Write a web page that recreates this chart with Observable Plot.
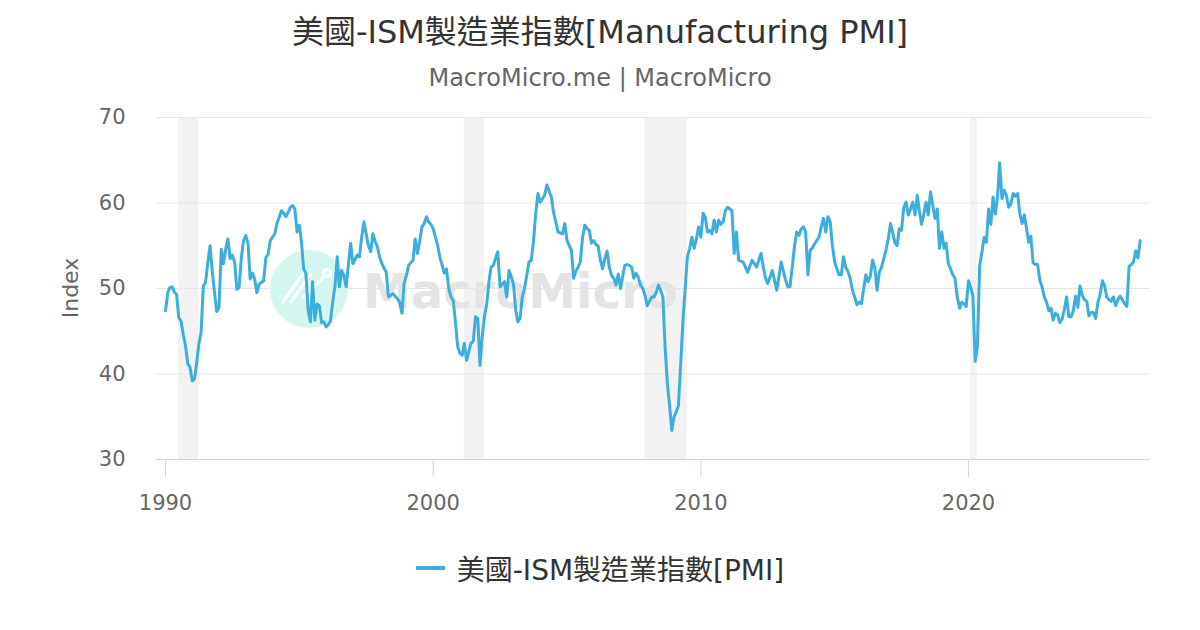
<!DOCTYPE html>
<html><head><meta charset="utf-8">
<script src="https://cdn.jsdelivr.net/npm/d3@7"></script>
<script src="https://cdn.jsdelivr.net/npm/@observablehq/plot@0.6"></script>
<style>
html,body{margin:0;padding:0;background:#fff;}
#wrap{position:relative;width:1200px;height:630px;overflow:hidden;font-family:"DejaVu Sans","Noto Sans CJK TC",sans-serif;}
#title{position:absolute;left:0;width:1200px;top:16px;text-align:center;font-size:32px;line-height:32px;color:#333;white-space:nowrap;}
#subtitle{position:absolute;left:0;width:1200px;top:66px;text-align:center;font-size:24px;line-height:24px;color:#666;white-space:nowrap;}
#chart{position:absolute;left:0;top:91px;}
#legend{position:absolute;left:0;width:1200px;top:550px;height:36px;display:flex;justify-content:center;align-items:center;font-size:28px;color:#333;white-space:nowrap;}
#legend .sw{display:inline-block;width:29px;height:4px;background:#3daedb;margin-right:12px;}
</style></head>
<body>
<div id="wrap">
  <div id="title">美國-ISM製造業指數[Manufacturing PMI]</div>
  <div id="subtitle">MacroMicro.me | MacroMicro</div>
  <div id="chart"></div>
  <div id="legend"><span class="sw"></span><span>美國-ISM製造業指數[PMI]</span></div>
</div>
<script>
// Monthly ISM manufacturing PMI, starting January 1990
const startYear = 1990;
const pmi1990s = [
  47.4, 49.5, 50.1, 50.2, 49.6, 49.3, 46.6, 46.2, 44.6, 43.3, 41.2, 40.8,
  39.2, 39.4, 41.2, 43.5, 44.8, 50.3, 50.7, 53.0, 55.0, 52.0, 49.5, 47.3,
  47.8, 54.6, 52.9, 54.6, 55.8, 53.5, 53.9, 53.1, 49.9, 50.1, 53.6, 55.6,
  56.2, 55.2, 51.1, 51.8, 51.1, 49.5, 50.5, 50.7, 50.9, 53.6, 54.0, 55.6,
  56.0, 56.4, 57.6, 58.3, 59.1, 58.8, 58.4, 58.9, 59.5, 59.7, 59.3, 56.6,
  57.4, 55.3, 52.3, 51.8, 47.5, 46.1, 50.8, 46.3, 48.2, 48.0, 46.0, 46.1,
  45.5, 45.8, 46.2, 48.5, 50.2, 53.7, 50.2, 52.1, 51.5, 50.2, 52.8, 55.3,
  52.9, 53.4, 53.9, 53.7, 56.0, 57.8, 56.4, 55.0, 54.3, 56.4, 55.5, 54.9,
  53.7, 52.9, 52.4, 51.9, 49.0, 49.2, 49.4, 49.1, 48.8, 48.4, 47.1, 50.6,
  51.5, 52.7, 53.0, 53.3, 55.8, 54.1, 55.5, 57.2, 57.6, 58.4, 57.8, 57.5
];
const pmi2000s = [
  57.0, 56.0, 55.1, 53.7, 52.8, 51.8, 52.3, 50.0, 49.0, 48.6, 46.0, 43.2,
  42.4, 42.2, 43.6, 41.6, 42.6, 43.6, 43.8, 46.7, 46.5, 41.0, 44.4, 46.7,
  48.2, 50.8, 52.5, 52.7, 53.5, 54.3, 50.2, 50.5, 50.8, 49.0, 52.1, 51.4,
  50.5, 47.5, 46.1, 46.5, 49.0, 50.0, 51.5, 53.1, 53.3, 55.5, 58.8, 61.1,
  60.1, 60.5, 60.9, 62.1, 61.4, 60.7, 58.9, 57.8, 56.6, 56.5, 56.4, 57.6,
  55.6, 55.0, 54.5, 51.2, 52.0, 52.5, 53.1, 56.0, 57.4, 57.0, 56.8, 55.3,
  55.6, 55.1, 55.0, 53.3, 52.3, 53.5, 54.4, 52.5, 51.5, 51.2, 50.4, 51.7,
  50.0, 51.5, 52.7, 52.8, 52.7, 52.5, 51.2, 51.8, 51.3, 50.4, 50.0, 49.2,
  48.0, 48.5, 49.0, 49.0, 49.5, 50.4, 49.8, 49.0, 43.0, 38.9, 36.2, 33.4,
  35.0, 35.6, 36.3, 41.2, 46.0, 50.0, 53.7, 54.7, 56.0, 54.7, 55.8, 57.2
];
const pmi2010s = [
  56.0, 58.8, 58.4, 56.6, 56.8, 56.4, 58.0, 56.6, 58.0, 57.5, 57.8, 59.1,
  59.5, 59.3, 59.1, 54.1, 56.6, 53.3, 53.2, 53.1, 52.5, 51.9, 52.6, 53.3,
  52.9, 52.5, 53.3, 54.1, 52.6, 51.2, 50.6, 51.3, 52.1, 51.0, 49.8, 51.4,
  53.1, 52.0, 51.0, 50.2, 50.2, 52.5, 54.9, 56.6, 56.2, 57.0, 57.2, 56.6,
  51.6, 54.5, 54.7, 55.2, 55.6, 56.0, 57.2, 58.2, 56.6, 58.4, 57.8, 55.0,
  53.1, 52.3, 51.6, 51.6, 53.7, 52.5, 52.0, 51.2, 49.8, 49.0, 48.1, 48.4,
  48.2, 50.0, 51.6, 50.8, 51.4, 53.3, 52.5, 49.8, 51.9, 52.5, 53.5, 54.5,
  55.8, 57.6, 56.6, 55.4, 55.0, 57.0, 56.8, 59.5, 60.1, 58.6, 59.3, 60.1,
  58.6, 60.9, 59.1, 57.5, 58.7, 60.1, 58.6, 61.3, 59.7, 58.2, 59.3, 54.7,
  56.6, 54.7, 55.3, 52.9, 52.3, 51.6, 51.2, 49.0, 47.7, 48.4, 48.2, 47.9
];
const pmi2020s = [
  50.9, 50.1, 49.1, 41.5, 43.1, 52.6, 54.2, 56.0, 55.4, 59.3, 57.5, 60.7,
  58.7, 60.8, 64.7, 60.5, 61.5, 60.9, 59.5, 59.9, 61.1, 60.8, 61.1, 58.8,
  57.6, 58.6, 57.1, 55.4, 56.1, 53.0, 52.8, 52.8, 50.9, 50.2, 49.0, 48.4,
  47.4, 47.7, 46.3, 47.1, 46.9, 46.0, 46.4, 47.6, 49.0, 46.7, 46.7, 47.4,
  49.1, 47.8, 50.3, 49.2, 48.7, 48.5, 46.8, 47.2, 47.2, 46.5, 48.4, 49.3,
  50.9, 50.3, 49.0, 48.7, 48.5, 49.0, 48.0, 48.7, 49.1, 48.7, 48.2, 47.9,
  52.6, 52.8, 53.1, 54.4, 53.6, 55.6
];
// Recession periods (shaded)
const recStart = ["1990-07-01", "2001-03-01", "2007-12-01", "2020-02-01"];
const recEnd   = ["1991-03-31", "2001-11-30", "2009-06-30", "2020-04-30"];
// Tick labels
const xTickYears = [1990, 2000, 2010, 2020];
const yTicks = [30, 40, 50, 60, 70];

const pmiValues = [...pmi1990s, ...pmi2000s, ...pmi2010s, ...pmi2020s];
const data = pmiValues.map((v, i) => ({date: new Date(Date.UTC(startYear, i, 1)), value: v}));
const recessions = recStart.map((s, i) => ({start: new Date(s + "T00:00Z"), end: new Date(recEnd[i] + "T00:00Z")}));
const xTicks = xTickYears.map(y => new Date(Date.UTC(y, 0, 1)));

const x0 = data[0].date, x1 = data[data.length - 1].date;
const pxPerMs = (968 - 165) / (Date.UTC(2020, 0, 1) - Date.UTC(1990, 0, 1));
const xRange = [165, 165 + pxPerMs * (x1 - x0)];

const chart = Plot.plot({
  width: 1200, height: 440,
  marginTop: 26, marginBottom: 72, marginLeft: 156, marginRight: 50,
  style: {background: "transparent", fontFamily: '"DejaVu Sans", sans-serif', overflow: "visible"},
  x: {type: "utc", domain: [x0, x1], range: xRange},
  y: {domain: [30, 70]},
  marks: [
    Plot.rect(recessions, {x1: "start", x2: "end", fill: "#f2f2f2"}),
    Plot.gridY(yTicks, {stroke: "#e6e6e6", strokeOpacity: 1}),
    Plot.ruleY([30], {stroke: "#ccd6eb"}),
    Plot.axisX(xTicks, {tickSize: 18, tickPadding: 18, fontSize: 21, stroke: "#ccd6eb", fill: "#666", tickFormat: d => String(d.getUTCFullYear()), label: null}),
    Plot.axisY(yTicks, {tickSize: 0, tickPadding: 31, fontSize: 21, fill: "#666", label: null}),
    Plot.line(data, {x: "date", y: "value", stroke: "#3daedb", strokeWidth: 3})
  ]
});
document.getElementById("chart").appendChild(chart);

const svg = d3.select(chart);
// y-axis title
svg.append("text")
  .attr("transform", "translate(70,197) rotate(-90)")
  .attr("text-anchor", "middle").attr("dy", "0.35em")
  .attr("font-size", 22).attr("fill", "#666")
  .attr("font-family", '"DejaVu Sans", sans-serif')
  .text("Index");

// watermark, placed under the series line
const wm = svg.insert("g", 'g[aria-label="line"]').attr("pointer-events", "none");
wm.append("circle").attr("cx", 309).attr("cy", 198).attr("r", 39).attr("fill", "#d5f6ef");
const lg = wm.append("g").attr("stroke", "#fff").attr("stroke-width", 3).attr("stroke-linecap", "round").attr("fill", "none");
lg.append("line").attr("x1", 283).attr("y1", 211).attr("x2", 302).attr("y2", 184);
lg.append("line").attr("x1", 291).attr("y1", 211).attr("x2", 310).attr("y2", 184);
lg.append("line").attr("x1", 302).attr("y1", 207).attr("x2", 324).attr("y2", 186);
lg.append("circle").attr("cx", 327).attr("cy", 182).attr("r", 3.5);
wm.append("text").attr("x", 363).attr("y", 217)
  .attr("text-anchor", "start")
  .attr("font-size", 48).attr("font-weight", "bold").attr("fill", "#e4e4e4")
  .attr("font-family", '"DejaVu Sans", sans-serif')
  .text("MacroMicro");
</script>
</body></html>
